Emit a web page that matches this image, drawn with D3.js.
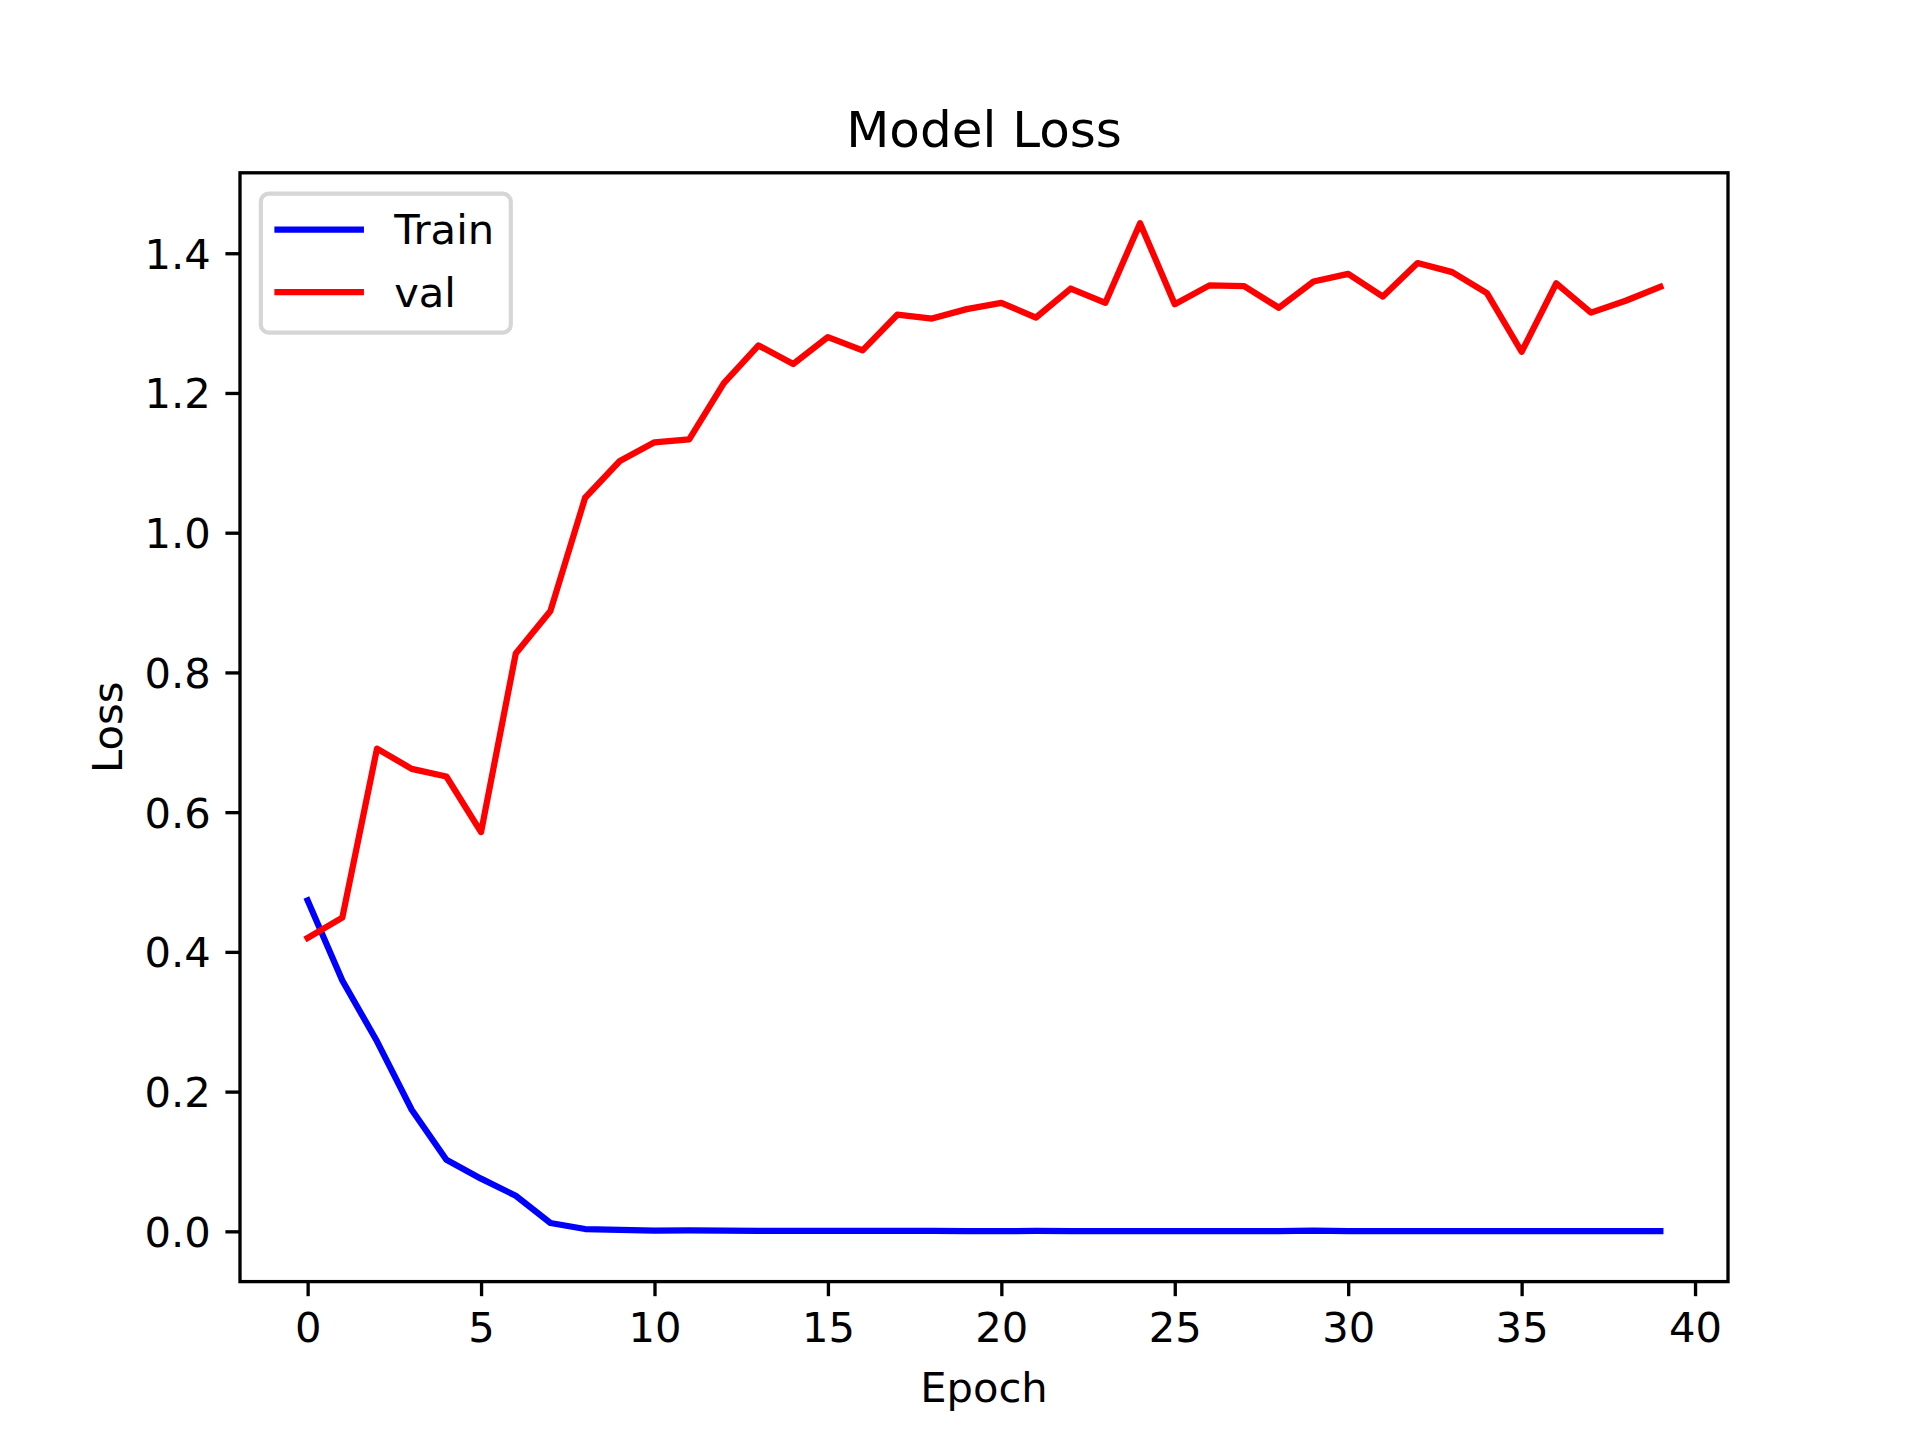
<!DOCTYPE html>
<html>
<head>
<meta charset="utf-8">
<script src="https://cdn.jsdelivr.net/npm/d3@7"></script>
<style>
  html, body { margin: 0; padding: 0; background: #fff; }
  svg { display: block; }
</style>
</head>
<body>
<svg id="chart" width="1920" height="1440"></svg>
<script>
const epochs = d3.range(0, 40);
const trainLoss = [0.4736, 0.359, 0.272, 0.174, 0.1026, 0.0754, 0.051, 0.0119, 0.0033, 0.0020,
  0.0012, 0.0015, 0.0011, 0.0008, 0.0007, 0.0007, 0.0006, 0.0005, 0.0005, 0.0004,
  0.0004, 0.0005, 0.0003, 0.0003, 0.0003, 0.0003, 0.0003, 0.0003, 0.0004, 0.0012,
  0.0003, 0.0004, 0.0003, 0.0002, 0.0002, 0.0002, 0.0002, 0.0002, 0.0003, 0.0002];
const valLoss = [0.420, 0.449, 0.691, 0.662, 0.651, 0.5715, 0.827, 0.888, 1.050, 1.1026,
  1.1293, 1.1336, 1.214, 1.268, 1.2415, 1.280, 1.261, 1.312, 1.3065, 1.320,
  1.329, 1.308, 1.3495, 1.329, 1.443, 1.327, 1.354, 1.353, 1.322, 1.3595,
  1.3705, 1.338, 1.386, 1.373, 1.343, 1.259, 1.357, 1.315, 1.332, 1.352];
const xTicks = [0, 5, 10, 15, 20, 25, 30, 35, 40];
const yTicks = [0.0, 0.2, 0.4, 0.6, 0.8, 1.0, 1.2, 1.4];
const seriesNames = ["Train", "val"];
const seriesColors = ["#0000ff", "#ff0000"];
const titleText = "Model Loss";
const xLabelText = "Epoch";
const yLabelText = "Loss";

(function () {
const W = 1920, H = 1440;
const mLeft = 240, mRight = 1728, mTop = 172.8, mBottom = 1281.6;
const FONT = "'DejaVu Sans', sans-serif";
const FS = 41.667;
const LW = 6.25;
const SPINE = 3.333;
const TICKLEN = 14.583;

const svg = d3.select("#chart");

// domains with 5% margins (matplotlib autoscale)
const xExt = d3.extent(epochs);
const xPad = (xExt[1] - xExt[0]) * 0.05;
const allY = trainLoss.concat(valLoss);
const yExt = d3.extent(allY);
const yPad = (yExt[1] - yExt[0]) * 0.05;

const x = d3.scaleLinear().domain([xExt[0] - xPad, xExt[1] + xPad]).range([mLeft, mRight]);
const y = d3.scaleLinear().domain([yExt[0] - yPad, yExt[1] + yPad]).range([mBottom, mTop]);

svg.append("defs").append("clipPath").attr("id", "clip")
  .append("rect").attr("x", mLeft).attr("y", mTop).attr("width", mRight - mLeft).attr("height", mBottom - mTop);

const series = [trainLoss, valLoss];
const line = d3.line().x((d, i) => x(epochs[i])).y(d => y(d));
const plot = svg.append("g").attr("clip-path", "url(#clip)");
series.forEach((s, k) => {
  plot.append("path")
    .datum(s)
    .attr("d", line)
    .attr("fill", "none")
    .attr("stroke", seriesColors[k])
    .attr("stroke-width", LW)
    .attr("stroke-linejoin", "round")
    .attr("stroke-linecap", "square");
});

const xAxis = d3.axisBottom(x).tickValues(xTicks).tickSize(TICKLEN).tickSizeOuter(0)
  .tickPadding(TICKLEN).tickFormat(d3.format("d"));
const yAxis = d3.axisLeft(y).tickValues(yTicks).tickSize(TICKLEN).tickSizeOuter(0)
  .tickPadding(TICKLEN).tickFormat(d3.format(".1f"));

const gx = svg.append("g").attr("transform", `translate(0,${mBottom})`).call(xAxis);
const gy = svg.append("g").attr("transform", `translate(${mLeft},0)`).call(yAxis);
[gx, gy].forEach(g => {
  g.select(".domain").remove();
  g.attr("font-family", FONT).attr("font-size", FS);
  g.selectAll(".tick line").attr("stroke", "#000").attr("stroke-width", SPINE);
  g.selectAll(".tick text").attr("fill", "#000");
});
gx.selectAll(".tick text").attr("dy", "0.74em");
gy.selectAll(".tick text").attr("dy", "0.36em");

svg.append("rect")
  .attr("x", mLeft).attr("y", mTop)
  .attr("width", mRight - mLeft).attr("height", mBottom - mTop)
  .attr("fill", "none").attr("stroke", "#000").attr("stroke-width", SPINE)
  .attr("stroke-linecap", "square");

svg.append("text").attr("x", (mLeft + mRight) / 2).attr("y", 147)
  .attr("text-anchor", "middle").attr("font-family", FONT).attr("font-size", FS * 1.2)
  .attr("fill", "#000").text(titleText);
svg.append("text").attr("x", (mLeft + mRight) / 2).attr("y", 1401.5)
  .attr("text-anchor", "middle").attr("font-family", FONT).attr("font-size", FS)
  .attr("fill", "#000").text(xLabelText);
svg.append("text")
  .attr("transform", `translate(121.5,${(mTop + mBottom) / 2}) rotate(-90)`)
  .attr("text-anchor", "middle").attr("font-family", FONT).attr("font-size", FS)
  .attr("fill", "#000").text(yLabelText);

const lgX = mLeft + 20.83, lgY = mTop + 20.83;
const lg = svg.append("g");
const lgBox = lg.append("rect")
  .attr("x", lgX).attr("y", lgY)
  .attr("rx", 8).attr("ry", 8)
  .attr("fill", "#ffffff").attr("fill-opacity", 0.8)
  .attr("stroke", "#d6d6d6").attr("stroke-width", 4.17);
const rowY = [229.5, 292];
const textBase = [244, 306.7];
let maxW = 0;
seriesNames.forEach((name, k) => {
  lg.append("line")
    .attr("x1", lgX + 16.67).attr("x2", lgX + 16.67 + 83.33)
    .attr("y1", rowY[k]).attr("y2", rowY[k])
    .attr("stroke", seriesColors[k]).attr("stroke-width", LW)
    .attr("stroke-linecap", "square");
  const t = lg.append("text")
    .attr("x", lgX + 16.67 + 83.33 + 33.33).attr("y", textBase[k])
    .attr("font-family", FONT).attr("font-size", FS).attr("fill", "#000")
    .text(name);
  maxW = Math.max(maxW, t.node().getComputedTextLength());
});
lgBox.attr("width", 16.67 + 83.33 + 33.33 + maxW + 16.67).attr("height", 139);
})();
</script>
</body>
</html>
